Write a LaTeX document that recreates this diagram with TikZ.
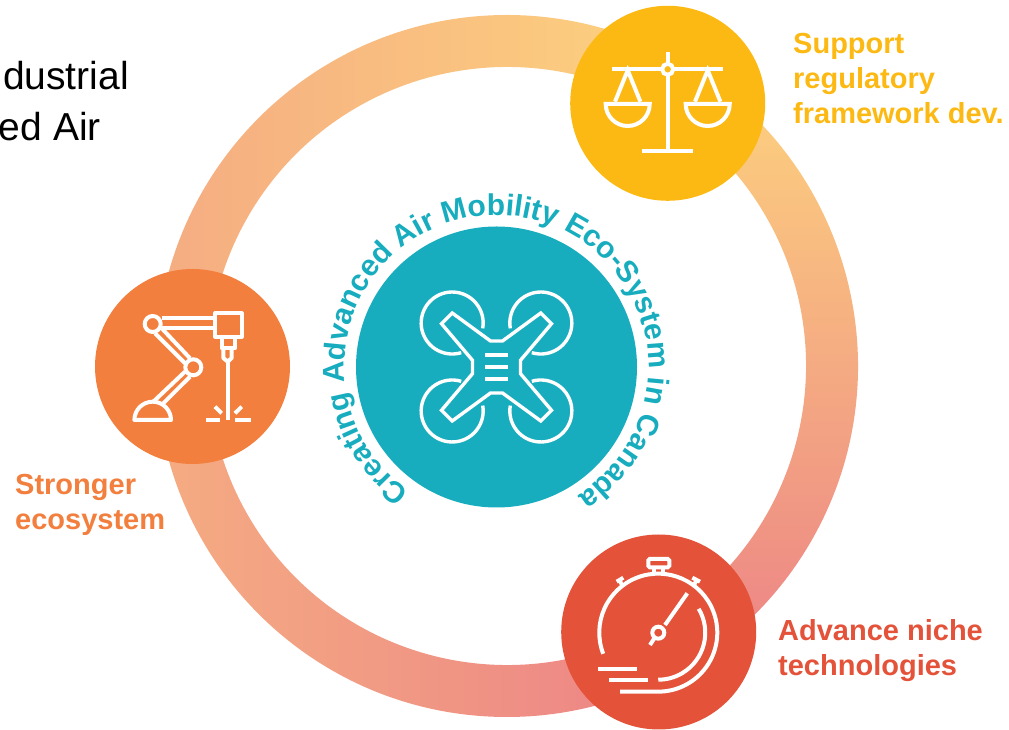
\documentclass[tikz,border=0pt]{standalone}
\usepackage{fontspec}
\setmainfont{Liberation Sans}
\usetikzlibrary{decorations.text}
\definecolor{scalegold}{HTML}{FDB913}
\definecolor{robotorange}{HTML}{F27F3D}
\definecolor{watchred}{HTML}{E35239}
\definecolor{dronecyan}{HTML}{17ADBE}
\definecolor{ringgold}{HTML}{FDD37E}
\definecolor{ringorange}{HTML}{F5AC82}
\definecolor{ringpink}{HTML}{EC8286}

\begin{document}
\begin{tikzpicture}[
    x=1pt, y=1pt,
    hub/.style = {circle, inner sep=0pt, minimum size=195pt},
    icon/.style = {draw=white, line width=4pt},
    thinicon/.style = {draw=white, line width=3.4pt},
    goal/.style = {font=\fontsize{29}{35}\selectfont\bfseries, align=left, anchor=north west, inner sep=0pt},
    intro/.style = {font=\fontsize{39}{51}\selectfont, anchor=base east, inner sep=0pt}
  ]
  \useasboundingbox (0,0) rectangle (1009,730);

  % ring
  \begin{scope}[shift={(507,364)}]
    \shade [left color=ringorange, right color=ringgold]
      (180:351) arc (180:58.5:351) -- (58.5:299) arc (58.5:180:299) -- cycle;
    \shade [top color=ringgold, middle color=ringgold!75!ringorange, bottom color=ringpink]
      (58.5:351) arc (58.5:-60:351) -- (-60:299) arc (-60:58.5:299) -- cycle;
    \shade [left color=ringorange, right color=ringpink]
      (180:351) arc (180:300:351) -- (300:299) arc (300:180:299) -- cycle;
  \end{scope}

  \node [intro] (introa) at (129,640) {dustrial};
  \node [intro] (introb) at (101,589) {ed Air};

  % center
  \node [circle, inner sep=0pt, minimum size=281pt, fill=dronecyan] (drone) at (496.5,363) {};
  \begin{scope}[shift={(drone.center)}]
    \path [decorate, decoration={text along path, reverse path=false,
        text={|\fontsize{30}{32}\selectfont\bfseries\color{dronecyan}|Creating Advanced Air Mobility Eco-System in Canada}}]
      (235:152) arc (235:-62:152);
    \foreach \sx/\sy in {1/1, -1/1, 1/-1, -1/-1}
      \draw [thinicon, xscale=\sx, yscale=\sy] (13.8,38.6) arc (190:-107:31);
    \draw [thinicon] (6,26) -- (44.3,54) -- (55,43.3) -- (24,6.7) -- (24,-6.7) -- (55,-43.3)
      -- (44.3,-54) -- (6,-26) -- (-6,-26) -- (-44.3,-54) -- (-55,-43.3) -- (-24,-6.7)
      -- (-24,6.7) -- (-55,43.3) -- (-44.3,54) -- (-6,26) -- cycle;
    \foreach \y in {12,0,-12}
      \draw [icon] (-11.3,\y) -- (11.3,\y);
  \end{scope}

  % scales
  \node [hub, fill=scalegold] (scales) at (667.7,626.7) {};
  \begin{scope}[shift={(scales.center)}]
    \draw [icon] (-55.5,34) -- (-5.5,34) (5.5,34) -- (55.5,34);
    \draw [icon] (0,34) circle (5.5);
    \draw [icon] (0,51.3) -- (0,39.5) (0,28.5) -- (0,-47.5);
    \draw [icon] (-25.5,-47.5) -- (25.5,-47.5);
    \foreach \px in {-40,40} {
      \draw [icon] (\px-22,-.7) -- (\px+22,-.7) arc (0:-180:22) -- cycle;
      \draw [icon] (\px-12.7,1.6) -- (\px,33) -- (\px+12.7,1.6);
    }
  \end{scope}

  % robot
  \node [hub, fill=robotorange] (robot) at (192.5,363.5) {};
  \begin{scope}[shift={(robot.center)}, line join=round]
    \draw [icon] (-39.8,42.5) circle (8) (.8,-.8) circle (8);
    \draw [icon] (22.5,53.2) rectangle (49.2,29.8);
    \draw [icon] (29.2,29.8) rectangle (42.5,18.2);
    \draw [icon] (30.8,18.2) -- (30.8,8.5) -- (35.2,4.8) -- (39.2,8.5) -- (39.2,18.2);
    \draw [icon] (35.2,4.8) -- (35.2,-53.5);
    \draw [icon] (-31,48.2) -- (22.5,48.2) (-31,38.8) -- (22.5,38.8);
    \draw [icon] (-30.8,38.2) -- (-2.5,8.2) (-37.5,33.2) -- (-7.5,3.2);
    \draw [icon] (-7.5,-5.2) -- (-39.2,-35.2) (-2.5,-10.2) -- (-29.2,-36.8);
    \draw [icon] (-58.1,-53.5) arc (180:0:18.3) -- cycle;
    \draw [icon] (13.5,-53.5) -- (27.5,-53.5) (42.5,-53.5) -- (58.5,-53.5);
    \draw [icon] (22.5,-40.2) -- (29.2,-46.8) (49.2,-40.2) -- (42.5,-46.8);
  \end{scope}

  % stopwatch
  \node [hub, fill=watchred] (watch) at (658.7,98) {};
  \begin{scope}[shift={(watch.center)}]
    \draw [icon] (-.4,-.7) circle (6);
    \draw [icon] (6.3,7) -- (28.6,38.7) (-4.4,-6.3) -- (-8.7,-13);
    \draw [icon] (-55.5,-21.8) arc (201:-90:59) -- (-38.7,-59.7);
    \draw [icon] (40,23.2) arc (30.6:-90:47);
    \draw [icon] (-60.4,-37) -- (-22,-37) (-49.4,-47.7) -- (-10.7,-47.7);
    \draw [icon, rounded corners=1.5pt] (-10.4,73) rectangle (10.6,64.7);
    \draw [icon] (-4.4,64.7) -- (-4.4,58.7) (4.6,64.7) -- (4.6,58.7);
    \draw [icon] (-36.7,47) -- (-39.2,52) (-42,50.3) -- (-35.4,54.3);
    \draw [icon] (35.3,47) -- (38,52) (33.6,54.3) -- (41.3,50.3);
  \end{scope}

  \node [goal, text=scalegold] (goalscales) at (793,697) {Support\\regulatory\\framework dev.};
  \node [goal, text=robotorange] (goalrobot) at (15,256) {Stronger\\ecosystem};
  \node [goal, text=watchred] (goalwatch) at (778,111) {Advance niche\\technologies};
\end{tikzpicture}
\end{document}
